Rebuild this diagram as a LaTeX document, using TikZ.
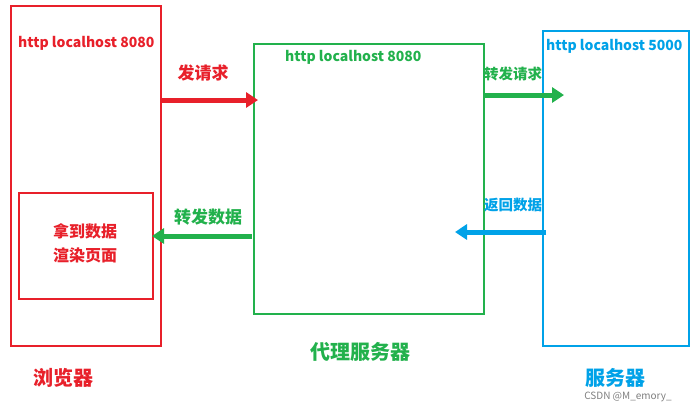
\documentclass[tikz,border=0pt]{standalone}
\usepackage{fontspec}
\setmainfont{Noto Sans CJK SC}
\usetikzlibrary{arrows.meta}
\definecolor{cred}{HTML}{E8202A}
\definecolor{cgreen}{HTML}{22B14C}
\definecolor{cblue}{HTML}{00A2E8}
\begin{document}
\begin{tikzpicture}[x=1pt,y=-1pt,
  box/.style={draw=#1,line width=1.6pt},
  arr/.style={draw=#1,line width=5pt,-{Triangle[length=12pt,width=15pt]}},
  lbl/.style={text=#1,inner sep=0pt,font=\bfseries\fontsize{14}{16}\selectfont},
  big/.style={text=#1,font=\bfseries\fontsize{20}{22}\selectfont}]
\path[use as bounding box,fill=white] (0,0) rectangle (697,413);
\node[box=cred,minimum width=150pt,minimum height=340pt,anchor=north west] (browser) at (10,5) {};
\node[box=cred,minimum width=134pt,minimum height=106pt,anchor=north west] (inner) at (18,192) {};
\node[box=cgreen,minimum width=230pt,minimum height=270pt,anchor=north west] (proxy) at (253,43) {};
\node[box=cblue,minimum width=146pt,minimum height=315pt,anchor=north west] (server) at (542,30) {};
\node[lbl=cred,anchor=west] (t1) at (18,43) {http localhost 8080};
\node[lbl=cgreen,anchor=west] (t2) at (285,57) {http localhost 8080};
\node[lbl=cblue,anchor=west] (t3) at (546,46) {http localhost 5000};
\node[text=cred,align=center,font=\bfseries\fontsize{16}{24}\selectfont] (t4) at (85,243) {拿到数据\\渲染页面};
\coordinate (a1) at (160,100); \coordinate (a2) at (258,100);
\coordinate (b1) at (484,95); \coordinate (b2) at (564,95);
\coordinate (c1) at (546,232); \coordinate (c2) at (455,232);
\coordinate (d1) at (252,236); \coordinate (d2) at (152,236);
\draw[arr=cred] (a1) -- (a2);
\draw[arr=cgreen] (b1) -- (b2);
\draw[arr=cblue] (c1) -- (c2);
\draw[arr=cgreen] (d1) -- (d2);
\node[lbl=cred,font=\bfseries\fontsize{17}{19}\selectfont] (l1) at (203,73) {发请求};
\node[lbl=cgreen,font=\bfseries\fontsize{14.5}{16}\selectfont] (l2) at (513,74) {转发请求};
\node[lbl=cblue,font=\bfseries\fontsize{14.5}{16}\selectfont] (l3) at (513,205) {返回数据};
\node[lbl=cgreen,font=\bfseries\fontsize{17}{19}\selectfont] (l4) at (208,217) {转发数据};
\node[big=cred] (n1) at (64,378) {浏览器};
\node[big=cgreen] (n2) at (360,352) {代理服务器};
\node[big=cblue] (n3) at (615,378) {服务器};
\node[text=gray,font=\fontsize{10}{12}\selectfont] (wm) at (628,397) {CSDN @M\_emory\_};
\end{tikzpicture}
\end{document}
